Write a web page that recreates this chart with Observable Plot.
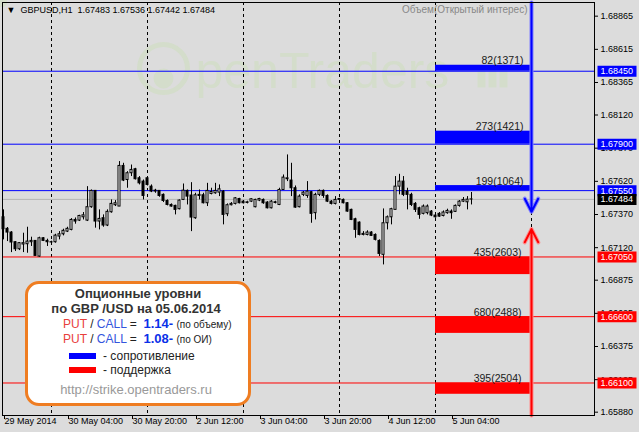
<!DOCTYPE html>
<html><head><meta charset="utf-8">
<script src="https://cdn.jsdelivr.net/npm/d3@7"></script>
<script src="https://cdn.jsdelivr.net/npm/@observablehq/plot@0.6"></script>
<style>
html,body{margin:0;padding:0;background:#dcdcdc;}
#wrap{position:relative;width:639px;height:432px;overflow:hidden;font-family:"Liberation Sans",Arial,sans-serif;}
#legend{position:absolute;left:25px;top:281px;width:226px;height:125px;box-sizing:border-box;border:3px solid #ef7d22;border-radius:14px;background:#fff;}
.l{position:absolute;white-space:nowrap;line-height:16px;font-family:"Liberation Sans",Arial,sans-serif;}
</style></head><body><div id="wrap"></div>
<script>
const symbol = "GBPUSD", period = "H1";
const tradingDays = ["2014-05-29","2014-05-30","2014-06-02","2014-06-03","2014-06-04","2014-06-05","2014-06-06"];
const firstBarTime = "2014-05-29 12:00";
const open = [1.67349,1.67262,1.67234,1.67161,1.67108,1.67144,1.67146,1.67161,1.67171,1.67053,1.67191,1.67171,1.67161,1.67161,1.67204,1.67221,1.67241,1.67254,1.67329,1.67324,1.67349,1.67324,1.67425,1.67548,1.67317,1.67342,1.67287,1.67387,1.67440,1.67430,1.67736,1.67630,1.67681,1.67711,1.67643,1.67618,1.67643,1.67580,1.67543,1.67548,1.67518,1.67472,1.67442,1.67435,1.67410,1.67480,1.67548,1.67513,1.67342,1.67518,1.67515,1.67455,1.67525,1.67530,1.67535,1.67543,1.67372,1.67440,1.67450,1.67487,1.67467,1.67457,1.67467,1.67425,1.67475,1.67480,1.67460,1.67417,1.67462,1.67442,1.67555,1.67636,1.67626,1.67568,1.67425,1.67518,1.67510,1.67538,1.67380,1.67518,1.67548,1.67510,1.67467,1.67450,1.67480,1.67480,1.67455,1.67405,1.67334,1.67309,1.67216,1.67216,1.67234,1.67216,1.67171,1.67066,1.67304,1.67349,1.67405,1.67580,1.67618,1.67543,1.67518,1.67450,1.67417,1.67375,1.67380,1.67392,1.67362,1.67375,1.67359,1.67380,1.67392,1.67390,1.67435,1.67467,1.67462,1.67483];
const high = [1.67405,1.67272,1.67241,1.67166,1.67159,1.67229,1.67274,1.67199,1.67174,1.67199,1.67196,1.67184,1.67169,1.67221,1.67241,1.67259,1.67274,1.67339,1.67344,1.67364,1.67385,1.67580,1.67555,1.67550,1.67405,1.67367,1.67405,1.67480,1.67475,1.67769,1.67756,1.67693,1.67743,1.67718,1.67656,1.67630,1.67656,1.67593,1.67560,1.67550,1.67525,1.67480,1.67450,1.67440,1.67480,1.67600,1.67555,1.67610,1.67530,1.67555,1.67530,1.67605,1.67568,1.67605,1.67593,1.67550,1.67450,1.67460,1.67498,1.67492,1.67475,1.67470,1.67490,1.67485,1.67492,1.67487,1.67467,1.67475,1.67470,1.67568,1.67668,1.67819,1.67756,1.67585,1.67518,1.67543,1.67618,1.67543,1.67530,1.67555,1.67555,1.67518,1.67475,1.67505,1.67492,1.67487,1.67460,1.67410,1.67342,1.67314,1.67241,1.67247,1.67241,1.67224,1.67179,1.67412,1.67359,1.67417,1.67656,1.67673,1.67656,1.67568,1.67530,1.67460,1.67425,1.67442,1.67442,1.67400,1.67372,1.67385,1.67397,1.67410,1.67405,1.67442,1.67475,1.67498,1.67505,1.67536];
const low = [1.67179,1.67166,1.67083,1.67091,1.67098,1.67083,1.67078,1.67129,1.67058,1.67048,1.67166,1.67129,1.67149,1.67154,1.67179,1.67209,1.67234,1.67247,1.67297,1.67317,1.67329,1.67317,1.67417,1.67267,1.67254,1.67274,1.67279,1.67380,1.67430,1.67430,1.67618,1.67568,1.67656,1.67630,1.67593,1.67480,1.67585,1.67535,1.67530,1.67500,1.67460,1.67435,1.67425,1.67367,1.67405,1.67475,1.67442,1.67241,1.67334,1.67480,1.67450,1.67430,1.67518,1.67523,1.67505,1.67292,1.67354,1.67435,1.67442,1.67450,1.67450,1.67450,1.67460,1.67420,1.67467,1.67447,1.67412,1.67412,1.67450,1.67437,1.67555,1.67618,1.67505,1.67417,1.67420,1.67505,1.67492,1.67304,1.67329,1.67505,1.67492,1.67460,1.67442,1.67442,1.67472,1.67450,1.67387,1.67324,1.67191,1.67209,1.67209,1.67209,1.67204,1.67171,1.67053,1.66990,1.67254,1.67292,1.67405,1.67518,1.67505,1.67405,1.67430,1.67385,1.67334,1.67367,1.67367,1.67354,1.67342,1.67349,1.67352,1.67372,1.67334,1.67385,1.67425,1.67460,1.67405,1.67442];
const close = [1.67259,1.67234,1.67159,1.67108,1.67154,1.67154,1.67166,1.67171,1.67058,1.67191,1.67171,1.67161,1.67159,1.67211,1.67221,1.67247,1.67262,1.67329,1.67317,1.67359,1.67364,1.67425,1.67548,1.67317,1.67337,1.67287,1.67390,1.67450,1.67455,1.67736,1.67626,1.67681,1.67706,1.67636,1.67605,1.67510,1.67593,1.67543,1.67550,1.67510,1.67472,1.67442,1.67430,1.67405,1.67475,1.67550,1.67505,1.67347,1.67515,1.67510,1.67455,1.67548,1.67540,1.67548,1.67560,1.67367,1.67440,1.67450,1.67492,1.67455,1.67455,1.67462,1.67485,1.67480,1.67487,1.67455,1.67417,1.67467,1.67457,1.67555,1.67648,1.67643,1.67568,1.67422,1.67505,1.67535,1.67543,1.67375,1.67518,1.67548,1.67510,1.67467,1.67450,1.67480,1.67487,1.67455,1.67392,1.67329,1.67254,1.67216,1.67224,1.67234,1.67209,1.67179,1.67073,1.67304,1.67349,1.67410,1.67580,1.67618,1.67518,1.67518,1.67442,1.67405,1.67367,1.67430,1.67430,1.67362,1.67349,1.67354,1.67385,1.67397,1.67380,1.67435,1.67467,1.67480,1.67482,1.67484];

const resistance = [1.68450, 1.67900, 1.67550];
const resistanceEdge = [1.68495, 1.67998, 1.67588];
const resistanceLabels = ["82(1371)", "273(1421)", "199(1064)"];
const support = [1.67050, 1.66600, 1.66100];
const supportEdge = [1.66917, 1.66474, 1.66015];
const supportLabels = ["435(2603)", "680(2488)", "395(2504)"];
const levelsFrom = "2014-06-05 00:00", levelsTo = "2014-06-06 00:00";
const arrowTips = {resistance: 1.67390, support: 1.67260};
const yTicks = [1.68865,1.68615,1.68365,1.68120,1.67870,1.67620,1.67370,1.67120,1.66875,1.66625,1.66375,1.66125,1.65880];
const xTickTimes = ["2014-05-29 12:00","2014-05-30 04:00","2014-05-30 20:00","2014-06-02 12:00","2014-06-03 04:00","2014-06-03 20:00","2014-06-04 12:00","2014-06-05 04:00"];
const xTickLabels = ["29 May 2014","30 May 04:00","30 May 20:00","2 Jun 12:00","3 Jun 04:00","3 Jun 20:00","4 Jun 12:00","5 Jun 04:00"];
const yDomain = [1.65855, 1.68968];
const xDomain = [-0.25, 147.75];
const indicatorTitle = "Объем(Открытый интерес)";
const watermark = "penTraders";
const legendTitle = ["Опционные уровни", "по GBP /USD на 05.06.2014"];
const putCall = [{ratio: "1.14-", basis: "(по объему)"}, {ratio: "1.08-", basis: "(по ОИ)"}];
const legendKeys = [{color: "#0000ff", label: "- сопротивление"}, {color: "#ff0000", label: "- поддержка"}];
const legendUrl = "http://strike.opentraders.ru";

const hours = tradingDays.flatMap(d => d3.range(24).map(h => `${d} ${String(h).padStart(2, "0")}:00`));
const base = hours.indexOf(firstBarTime);
const idx = t => hours.indexOf(t) - base;
const candles = open.map((o, i) => ({i, time: hours[base + i], open: o, high: high[i], low: low[i], close: close[i]}));
const dayStarts = tradingDays.map(d => idx(d + " 00:00")).filter(i => i >= 0);
const xTicks = xTickTimes.map(idx);
const last = candles[candles.length - 1];
const xStart = idx(levelsFrom), xEnd = idx(levelsTo);
const f5 = d3.format(".5f");

const boxSym = {draw(ctx) { ctx.moveTo(3, -5.5); ctx.lineTo(42, -5.5); ctx.lineTo(42, 5.5); ctx.lineTo(3, 5.5); ctx.closePath(); }};
const barsSym = {draw(ctx) { ctx.rect(0, -18, 8, 18); ctx.rect(11, -27, 8, 27); ctx.rect(22, -24, 8, 24); }};
const wmColor = "#d4ddcb";

const chart = Plot.plot({
  width: 639, height: 432,
  marginLeft: 2, marginRight: 45, marginTop: 2, marginBottom: 17,
  style: {background: "#dcdcdc", fontFamily: "'Liberation Sans', Arial, sans-serif", fontSize: "9px", color: "black", overflow: "visible"},
  x: {type: "linear", domain: xDomain, axis: null},
  y: {domain: yDomain, axis: null},
  marks: [
    Plot.dot([0], {frameAnchor: "top-left", dx: 161, dy: 66, r: 24, stroke: wmColor, strokeWidth: 5, fill: "none"}),
    Plot.dot([0], {frameAnchor: "top-left", dx: 161, dy: 76, r: 10, fill: wmColor}),
    Plot.dot([-14, 0, 14], {frameAnchor: "top-left", dx: d => 161 + d, dy: d => d === 0 ? 58 : 64, r: 5, fill: wmColor}),
    Plot.text([watermark], {text: d => d, frameAnchor: "top-left", dx: 193, dy: 69, fontSize: 50, fill: wmColor, lineAnchor: "middle", textAnchor: "start"}),
    Plot.dot([0], {frameAnchor: "top-left", dx: 475, dy: 85, symbol: barsSym, fill: wmColor}),
    Plot.ruleX(dayStarts, {x: d => d, stroke: "black", strokeDasharray: "3,3"}),
    Plot.ruleY([last.close], {y: d => d, stroke: "#b4b4b4"}),
    Plot.ruleY(resistance, {y: d => d, stroke: "#0000ff"}),
    Plot.ruleY(support, {y: d => d, stroke: "#ff0000"}),
    Plot.rect(resistance, {x1: xStart, x2: xEnd, y1: d => d, y2: (d, i) => resistanceEdge[i], fill: "#0000ff"}),
    Plot.rect(support, {x1: xStart, x2: xEnd, y1: d => d, y2: (d, i) => supportEdge[i], fill: "#ff0000"}),
    Plot.ruleX(candles, {x: "i", y1: "low", y2: "high", stroke: "black"}),
    Plot.rect(candles, {x1: d => d.i - 0.25, x2: d => d.i + 0.25, y1: "open", y2: "close", fill: d => d.close >= d.open ? "white" : "black", stroke: "black"}),
    Plot.text(resistance, {x: xEnd, y: (d, i) => resistanceEdge[i], text: (d, i) => resistanceLabels[i], textAnchor: "end", lineAnchor: "bottom", dx: -8, dy: -1, fontSize: 10.5, fill: "#1a1a1a"}),
    Plot.text(support, {x: xEnd, y: d => d, text: (d, i) => supportLabels[i], textAnchor: "end", lineAnchor: "bottom", dx: -10, dy: -1, fontSize: 10.5, fill: "#1a1a1a"}),
    Plot.arrow([{x: xEnd, y1: yDomain[1], y2: arrowTips.resistance}], {x1: "x", x2: "x", y1: "y1", y2: "y2", stroke: "#8080ff", strokeWidth: 4, headLength: 5.6, headAngle: 54}),
    Plot.arrow([{x: xEnd, y1: yDomain[1], y2: arrowTips.resistance}], {x1: "x", x2: "x", y1: "y1", y2: "y2", stroke: "#0000ff", strokeWidth: 2, headLength: 11, headAngle: 54}),
    Plot.arrow([{x: xEnd, y1: yDomain[0], y2: arrowTips.support}], {x1: "x", x2: "x", y1: "y1", y2: "y2", stroke: "#ff8c8c", strokeWidth: 4, headLength: 5.6, headAngle: 54}),
    Plot.arrow([{x: xEnd, y1: yDomain[0], y2: arrowTips.support}], {x1: "x", x2: "x", y1: "y1", y2: "y2", stroke: "#ff0000", strokeWidth: 2, headLength: 11, headAngle: 54}),
    Plot.text([last], {frameAnchor: "top-left", dx: 4, dy: 4, lineAnchor: "top", text: d => `▼  ${symbol},${period}  ${f5(d.open)} ${f5(d.high)} ${f5(d.low)} ${f5(d.close)}`, fill: "black"}),
    Plot.text([indicatorTitle], {x: xEnd, frameAnchor: "top", dx: -4, dy: 3, lineAnchor: "top", textAnchor: "end", text: d => d, fill: "#888", fontSize: 10}),
    Plot.axisY(yTicks, {anchor: "right", tickFormat: f5, tickSize: 3, tickPadding: 3}),
    Plot.axisX(xTicks, {anchor: "bottom", tickFormat: d => xTickLabels[xTicks.indexOf(d)], tickSize: 4, tickPadding: -2, textAnchor: "start", dx: 1}),
    Plot.frame({stroke: "black"}),
    Plot.dot(resistance, {y: d => d, frameAnchor: "right", symbol: boxSym, fill: "#0000ff"}),
    Plot.dot(support, {y: d => d, frameAnchor: "right", symbol: boxSym, fill: "#ff0000"}),
    Plot.dot([last.close], {y: d => d, frameAnchor: "right", symbol: boxSym, fill: "black"}),
    Plot.text([...resistance, ...support, last.close], {y: d => d, frameAnchor: "right", dx: 6, textAnchor: "start", text: f5, fill: "white"})
  ]
});
const wrap = document.getElementById("wrap");
wrap.appendChild(chart);

const html = [];
html.push(`<div id="legend"></div>`);
html.push(`<div class="l" style="left:25px;width:226px;text-align:center;top:286px;font-weight:bold;font-size:13px;color:#333">${legendTitle[0]}</div>`);
html.push(`<div class="l" style="left:25px;width:222px;text-align:center;top:301px;font-weight:bold;font-size:13px;color:#333">${legendTitle[1]}</div>`);
putCall.forEach((p, k) => {
  html.push(`<div class="l" style="left:63px;top:${316 + k * 15}px;font-size:12px;color:#222"><span style="color:#e8403c">PUT</span> / <span style="color:#3355dd">CALL</span> = &nbsp;<b style="color:#0a30e8;font-size:13px">${p.ratio}</b> <span style="font-size:10px">${p.basis}</span></div>`);
});
legendKeys.forEach((k, j) => {
  html.push(`<div style="position:absolute;left:69px;top:${353 + j * 14}px;width:27px;height:6px;background:${k.color}"></div>`);
  html.push(`<div class="l" style="left:103px;top:${348 + j * 14}px;font-size:12px;color:#222">${k.label}</div>`);
});
html.push(`<div class="l" style="left:25px;width:222px;text-align:center;top:382px;font-size:13px;color:#999">${legendUrl}</div>`);
wrap.insertAdjacentHTML("beforeend", html.join(""));
</script></body></html>
